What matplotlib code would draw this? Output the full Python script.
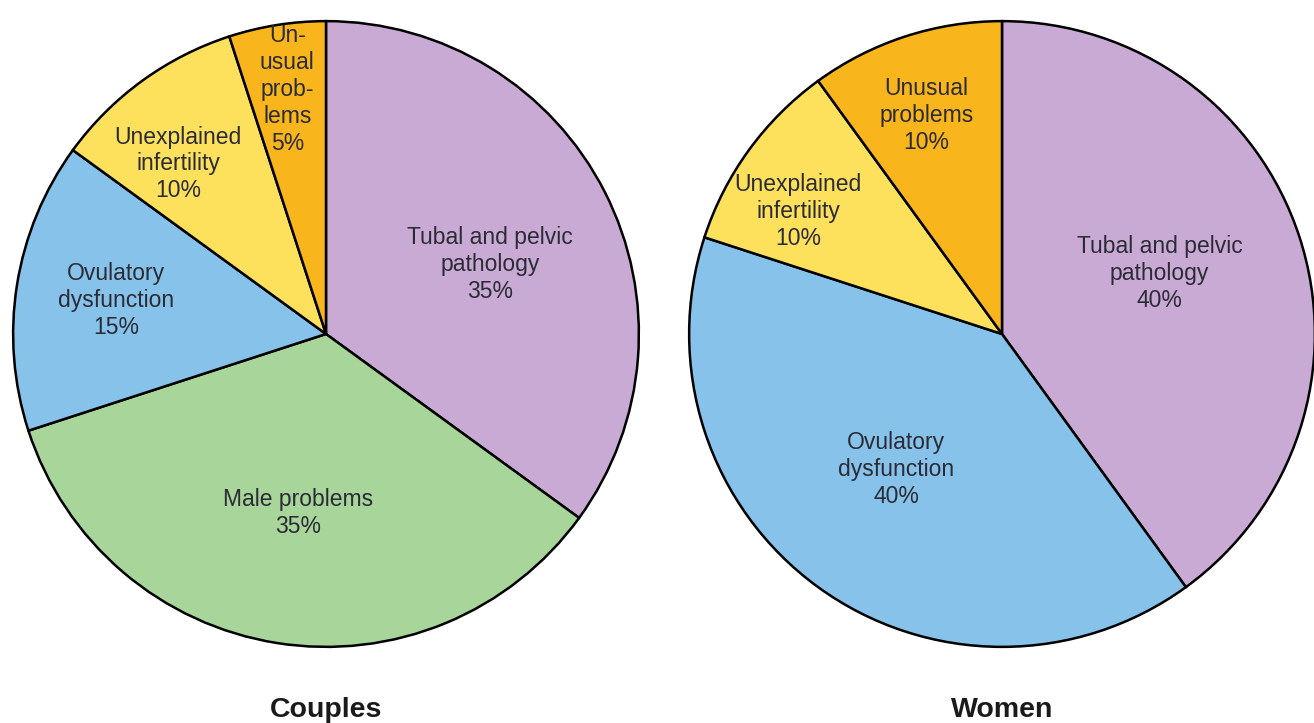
import matplotlib.pyplot as plt
import numpy as np

plt.rcParams['font.family'] = ['Liberation Sans', 'DejaVu Sans']

# Dati
couples_labels = ['Tubal and pelvic\npathology', 'Male problems', 'Ovulatory\ndysfunction',
                  'Unexplained\ninfertility', 'Un-\nusual\nprob-\nlems']
couples_values = [35, 35, 15, 10, 5]
couples_colors = ['#c9aad4', '#a8d59a', '#86c2e9', '#fde05c', '#f8b51c']

women_labels = ['Tubal and pelvic\npathology', 'Ovulatory\ndysfunction',
                'Unexplained\ninfertility', 'Unusual\nproblems']
women_values = [40, 40, 10, 10]
women_colors = ['#c9aad4', '#86c2e9', '#fde05c', '#f8b51c']

# distanza radiale delle etichette (layout)
couples_dist = [0.57, 0.58, 0.68, 0.72, 0.79]
women_dist = [0.54, 0.55, 0.76, 0.74]
couples_shift = [-4, 0, 0, 5, 0]
women_shift = [3, -2, 5, 1]

W, H = 1314, 723
fig = plt.figure(figsize=(W / 100, H / 100), dpi=100)


def draw_pie(cx, cy, r, values, labels, colors, dists, shifts, title):
    ax = fig.add_axes([(cx - r) / W, (H - cy - r) / H, 2 * r / W, 2 * r / H])
    wedges, _ = ax.pie(values, colors=colors, startangle=90, counterclock=False,
                       radius=1, wedgeprops=dict(edgecolor='black', linewidth=1.8))
    for w, lab, d, s in zip(wedges, labels, dists, shifts):
        pct = w.theta2 - w.theta1
        ang = np.deg2rad((w.theta1 + w.theta2) / 2 + s)
        share = round(pct / 360 * 100)
        ax.text(d * np.cos(ang), d * np.sin(ang), f'{lab}\n{share}%',
                ha='center', va='center', fontsize=16.5, color='#2b2b35',
                linespacing=1.22)
    ax.set_xlim(-1.01, 1.01)
    ax.set_ylim(-1.01, 1.01)
    ax.set_aspect('equal')
    ax.axis('off')
    fig.text(cx / W, 1 - 710 / H, title, ha='center', va='center',
             fontsize=20.5, fontweight='bold', color='#1a1a1a')


draw_pie(326, 334, 316, couples_values, couples_labels, couples_colors,
         couples_dist, couples_shift, 'Couples')
draw_pie(1002, 334, 316, women_values, women_labels, women_colors,
         women_dist, women_shift, 'Women')

plt.savefig('out.png', dpi=100)
